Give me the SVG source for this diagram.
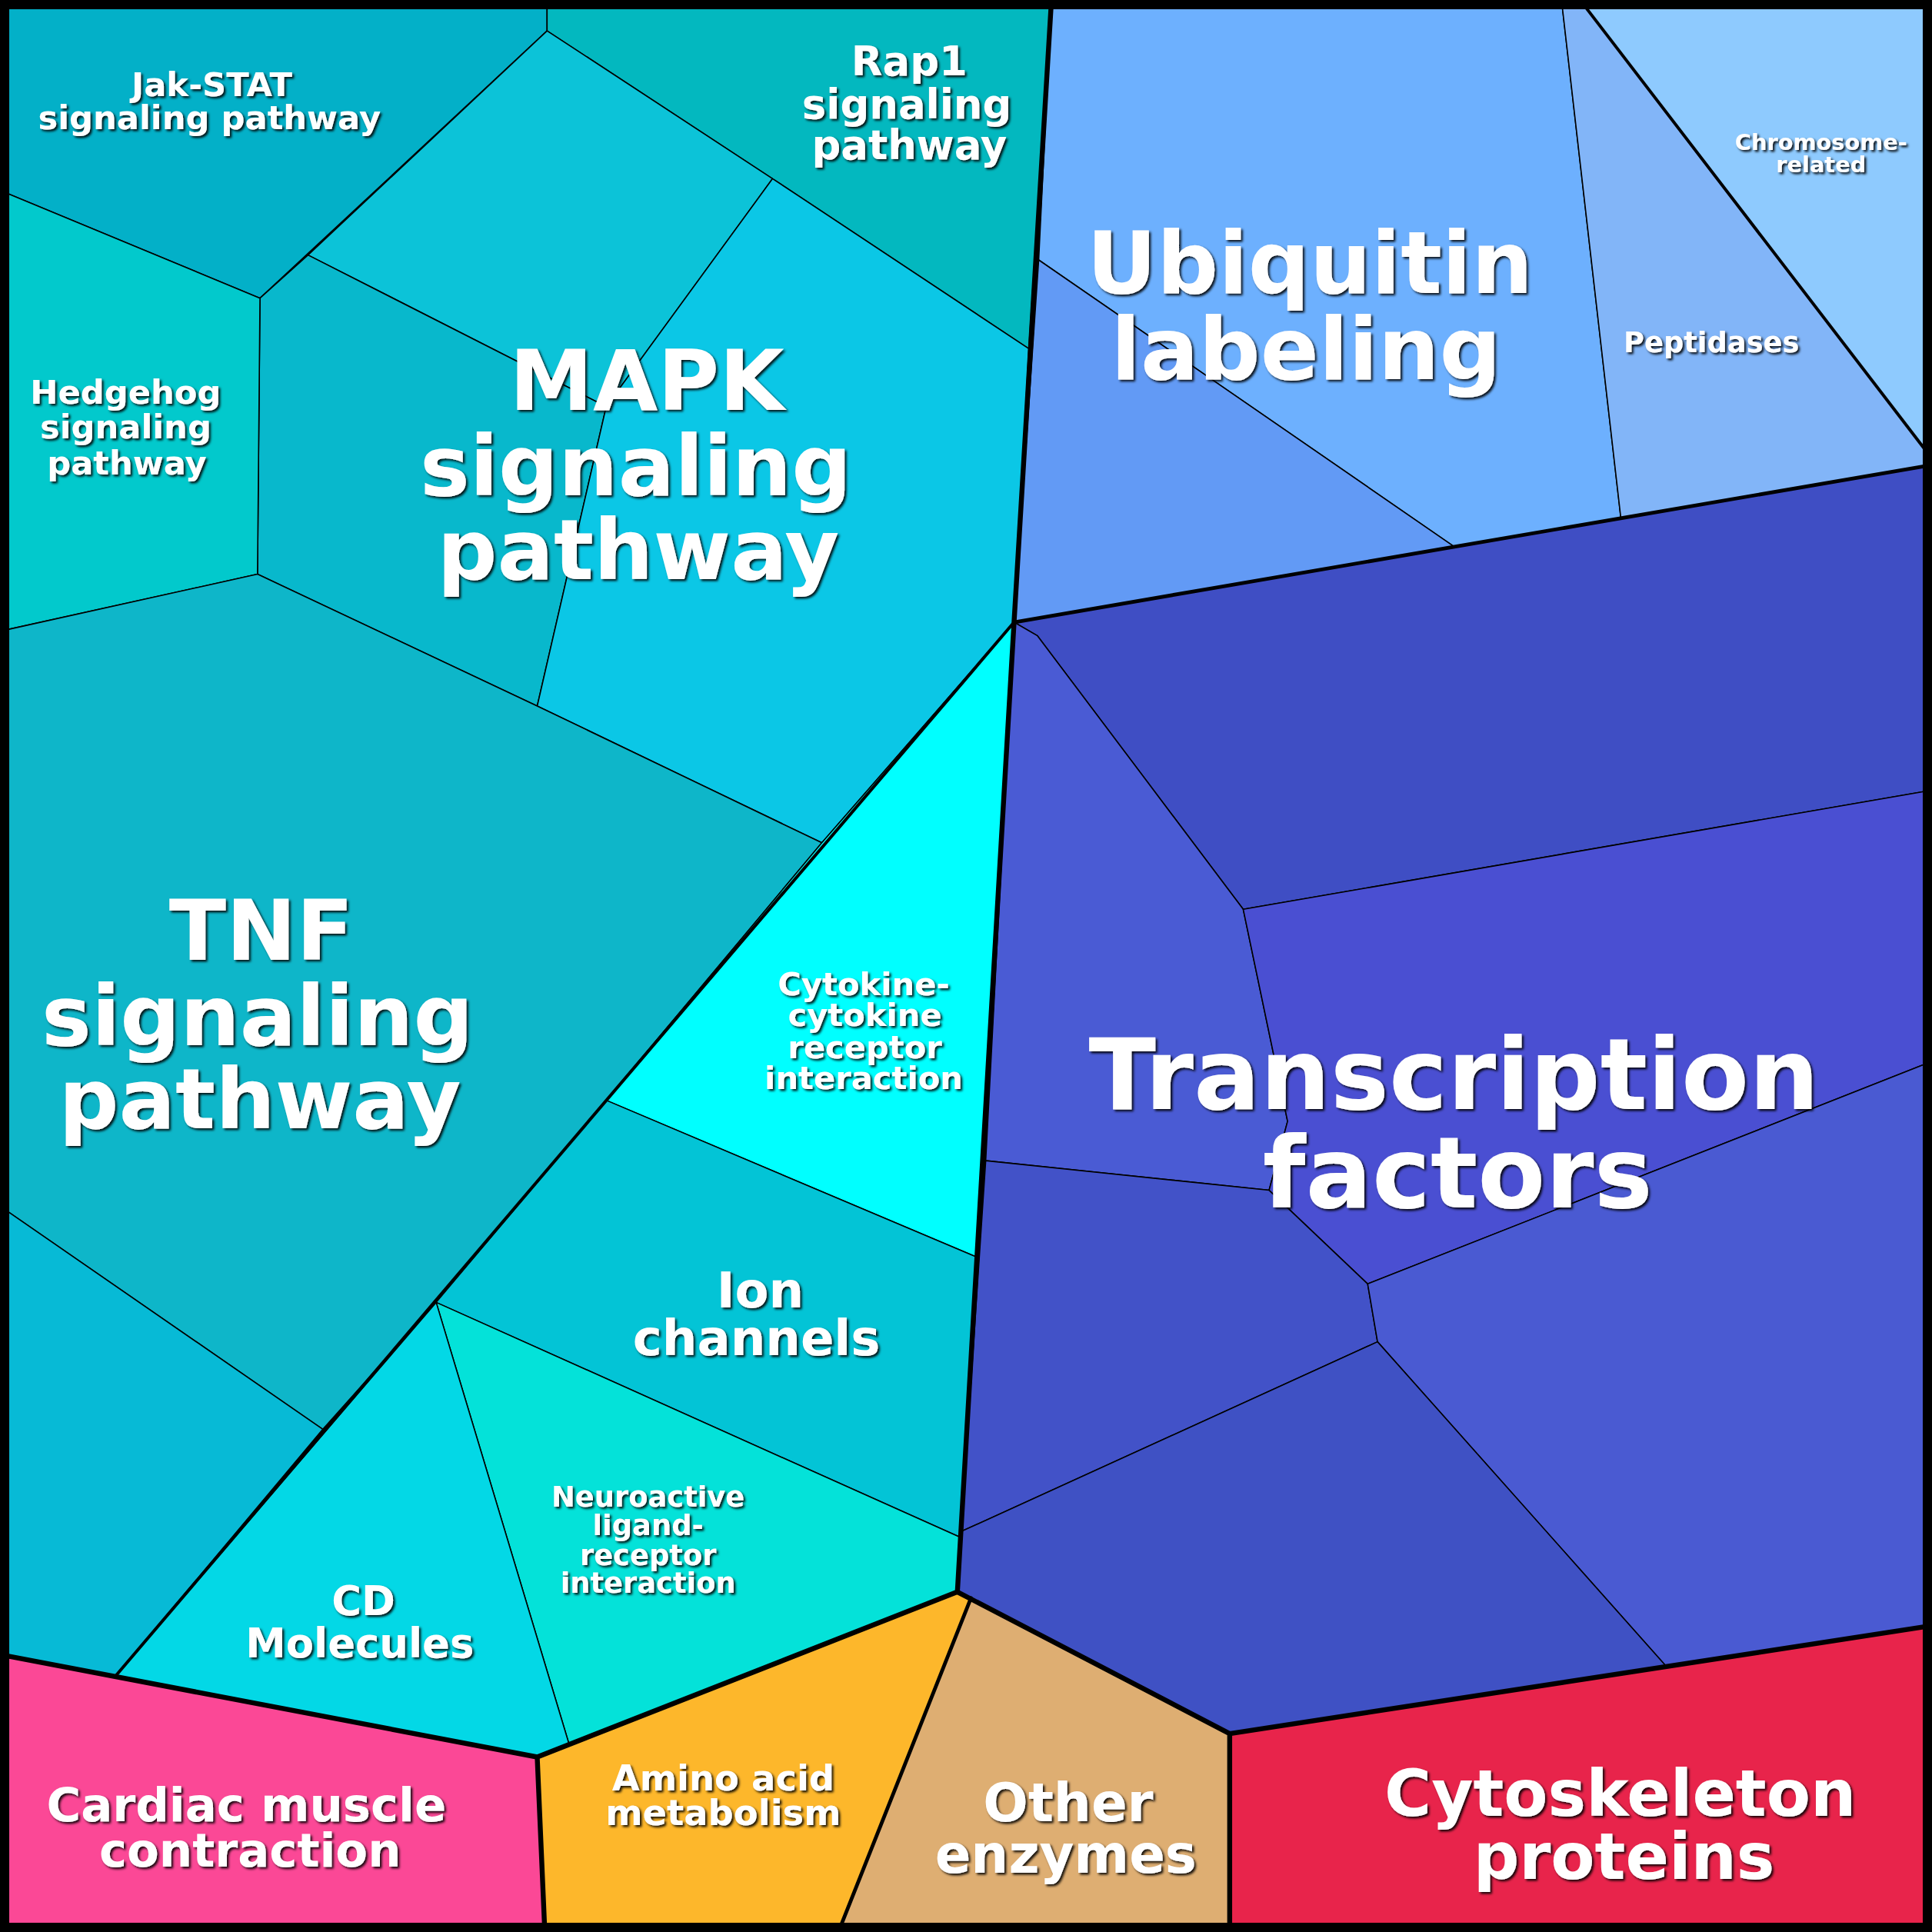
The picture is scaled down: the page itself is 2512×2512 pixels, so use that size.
<svg xmlns="http://www.w3.org/2000/svg" width="2512" height="2512" viewBox="0 0 2512 2512">
<defs>
<style>
.c{stroke:#000;stroke-width:1;stroke-linejoin:round}
.t{fill:#fff;font-family:"DejaVu Sans",sans-serif;font-weight:bold;text-anchor:middle;filter:url(#sh)}
.b{fill:none;stroke:#000;stroke-linejoin:round;stroke-linecap:round}
</style>
<filter id="sh" x="-10%" y="-10%" width="130%" height="140%"><feDropShadow dx="1.5" dy="1.5" stdDeviation="1" flood-color="#000" flood-opacity="0.9"/></filter>
</defs>
<rect width="2512" height="2512" fill="#000"/>
<g transform="scale(1.60204)">
<g id="cells">
<polygon id="jak" class="c" fill="#03b0c8" points="6,6 444,6 444,25 211,242 6,157"/>
<polygon id="rap1" class="c" fill="#03b8bf" points="444,6 853,6 835,283 627,145 444,25"/>
<polygon id="mapk-a" class="c" fill="#0cc3d8" points="250,207 444,25 627,145 492,330"/>
<polygon id="mapk-b" class="c" fill="#08b8cc" points="211,242 250,207 492,330 436,573 209,466"/>
<polygon id="mapk-c" class="c" fill="#0bc7e6" points="627,145 835,283 823,505 667,684 436,573 492,330"/>
<polygon id="hedgehog" class="c" fill="#02c9cc" points="6,157 211,242 209,466 6,511"/>
<polygon id="tnf" class="c" fill="#0eb6c9" points="6,511 209,466 436,573 667,684 492,893 354,1057 262,1160 6,983"/>
<polygon id="ll" class="c" fill="#07bad6" points="6,983 262,1160 94,1360 6,1344"/>
<polygon id="cytokine" class="c" fill="#00ffff" points="823,505 792,1020 492,893 667,684"/>
<polygon id="ion" class="c" fill="#03c4d6" points="492,893 792,1020 780,1248 354,1057"/>
<polygon id="neuro" class="c" fill="#04e2d9" points="354,1057 780,1248 777,1292 462,1416"/>
<polygon id="cd" class="c" fill="#03d8e6" points="354,1057 462,1416 436,1426 94,1360"/>
<polygon id="cardiac" class="c" fill="#fb4896" points="6,1344 436,1426 442,1564 6,1564"/>
<polygon id="amino" class="c" fill="#fdb72b" points="436,1426 777,1292 788,1297 682,1564 442,1564"/>
<polygon id="other" class="c" fill="#deae72" points="788,1297 998,1407 998,1564 682,1564"/>
<polygon id="cyto" class="c" fill="#e8244b" points="998,1407 1564,1320 1564,1564 998,1564"/>
<polygon id="ubq-a" class="c" fill="#6db0fe" points="853,6 1268,6 1316,425 1188,449 843,211"/>
<polygon id="ubq-b" class="c" fill="#629af5" points="843,211 1188,449 823,505"/>
<polygon id="pept" class="c" fill="#82b5f8" points="1268,6 1287,6 1564,367 1564,378 1316,425"/>
<polygon id="chrom" class="c" fill="#8ecafe" points="1287,6 1564,6 1564,367"/>
<polygon id="tf-a" class="c" fill="#3f4ec4" points="823,505 1564,378 1564,642 1009,738 842,516"/>
<polygon id="tf-b" class="c" fill="#4a5bd4" points="823,505 842,516 1009,738 1045,910 1030,966 800,942"/>
<polygon id="tf-c" class="c" fill="#4a4fd2" points="1009,738 1564,642 1564,863 1110,1042 1030,966 1045,910"/>
<polygon id="tf-d" class="c" fill="#4252c8" points="800,942 1030,966 1110,1042 1118,1089 780,1243"/>
<polygon id="tf-e" class="c" fill="#4a5ad2" points="1110,1042 1564,863 1564,1320 1352,1352 1118,1089"/>
<polygon id="tf-f" class="c" fill="#3f51c4" points="780,1243 1118,1089 1352,1352 998,1407 777,1292"/>
</g>
<g id="connectors">
<polyline class="b" stroke-width="4" points="853,6 823,505 777,1292 998,1407 998,1564"/>
<polyline class="b" stroke-width="4" points="998,1407 1564,1320"/>
<polyline class="b" stroke-width="4" points="777,1292 436,1426 442,1564"/>
<polyline class="b" stroke-width="4" points="436,1426 6,1344"/>
<polyline class="b" stroke-width="3" points="788,1297 682,1564"/>
<polyline class="b" stroke-width="3" points="823,505 1564,378"/>
<polyline class="b" stroke-width="2.5" points="1287,6 1564,367"/>
<polyline class="b" stroke-width="2.5" points="823,505 94,1360"/>
<rect x="4" y="4" width="1560" height="1560" fill="none" stroke="#000" stroke-width="7"/>
</g>
<g id="labels">
<text class="t" font-size="27"><tspan x="172" y="78">Jak-STAT</tspan><tspan x="170" y="105">signaling pathway</tspan></text>
<text class="t" font-size="33"><tspan x="738" y="61">Rap1</tspan><tspan x="736" y="96">signaling</tspan><tspan x="738" y="129">pathway</tspan></text>
<text class="t" font-size="27"><tspan x="102" y="328">Hedgehog</tspan><tspan x="102" y="356">signaling</tspan><tspan x="103" y="385">pathway</tspan></text>
<text class="t" font-size="68"><tspan x="525" y="333">MAPK</tspan><tspan x="516" y="402">signaling</tspan><tspan x="518" y="470">pathway</tspan></text>
<text class="t" font-size="68"><tspan x="212" y="779">TNF</tspan><tspan x="209" y="848">signaling</tspan><tspan x="211" y="916">pathway</tspan></text>
<text class="t" font-size="26"><tspan x="701" y="808">Cytokine-</tspan><tspan x="702" y="833">cytokine</tspan><tspan x="702" y="859">receptor</tspan><tspan x="701" y="884">interaction</tspan></text>
<text class="t" font-size="40"><tspan x="617" y="1061">Ion</tspan><tspan x="614" y="1100">channels</tspan></text>
<text class="t" font-size="23"><tspan x="526" y="1223">Neuroactive</tspan><tspan x="526" y="1246">ligand-</tspan><tspan x="526" y="1270">receptor</tspan><tspan x="526" y="1293">interaction</tspan></text>
<text class="t" font-size="33"><tspan x="295" y="1311">CD</tspan><tspan x="292" y="1345">Molecules</tspan></text>
<text class="t" font-size="38"><tspan x="200" y="1478">Cardiac muscle</tspan><tspan x="203" y="1515">contraction</tspan></text>
<text class="t" font-size="29"><tspan x="587" y="1453">Amino acid</tspan><tspan x="587" y="1481">metabolism</tspan></text>
<text class="t" font-size="43"><tspan x="867" y="1478">Other</tspan><tspan x="865" y="1520">enzymes</tspan></text>
<text class="t" font-size="52"><tspan x="1315" y="1474">Cytoskeleton</tspan><tspan x="1318" y="1525">proteins</tspan></text>
<text class="t" font-size="70"><tspan x="1063" y="238">Ubiquitin</tspan><tspan x="1060" y="308">labeling</tspan></text>
<text class="t" font-size="23"><tspan x="1389" y="286">Peptidases</tspan></text>
<text class="t" font-size="18"><tspan x="1478" y="122">Chromosome-</tspan><tspan x="1478" y="140">related</tspan></text>
<text class="t" font-size="80"><tspan x="1180" y="900">Transcription</tspan><tspan x="1183" y="980">factors</tspan></text>
</g>
</g>
</svg>
